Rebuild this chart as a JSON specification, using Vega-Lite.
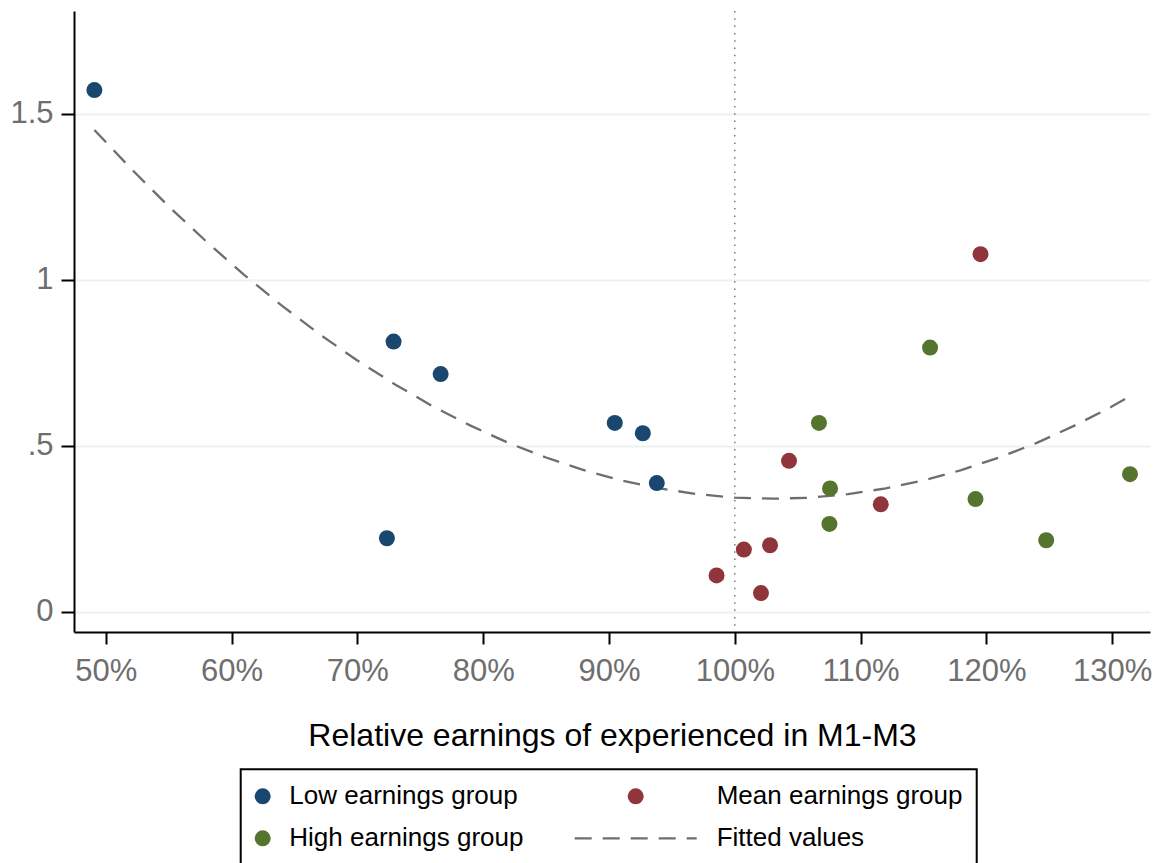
{
  "$schema": "https://vega.github.io/schema/vega-lite/v6.json",
  "width": 1076,
  "height": 621,
  "autosize": {"type": "none"},
  "padding": {"left": 74, "top": 11, "right": 11, "bottom": 231},
  "background": "white",
  "config": {
    "view": {"stroke": null},
    "font": "Liberation Sans, Arial, sans-serif"
  },
  "datasets": {
    "pts": [
      {"x": 49.1, "y": 1.571, "group": "Low earnings group"},
      {"x": 72.88, "y": 0.814, "group": "Low earnings group"},
      {"x": 72.35, "y": 0.222, "group": "Low earnings group"},
      {"x": 76.62, "y": 0.716, "group": "Low earnings group"},
      {"x": 90.46, "y": 0.569, "group": "Low earnings group"},
      {"x": 92.69, "y": 0.538, "group": "Low earnings group"},
      {"x": 93.8, "y": 0.388, "group": "Low earnings group"},
      {"x": 98.55, "y": 0.11, "group": "Mean earnings group"},
      {"x": 100.72, "y": 0.188, "group": "Mean earnings group"},
      {"x": 102.08, "y": 0.057, "group": "Mean earnings group"},
      {"x": 102.8, "y": 0.201, "group": "Mean earnings group"},
      {"x": 104.31, "y": 0.455, "group": "Mean earnings group"},
      {"x": 111.6, "y": 0.324, "group": "Mean earnings group"},
      {"x": 119.53, "y": 1.077, "group": "Mean earnings group"},
      {"x": 106.69, "y": 0.569, "group": "High earnings group"},
      {"x": 107.57, "y": 0.372, "group": "High earnings group"},
      {"x": 107.52, "y": 0.265, "group": "High earnings group"},
      {"x": 115.52, "y": 0.796, "group": "High earnings group"},
      {"x": 119.13, "y": 0.34, "group": "High earnings group"},
      {"x": 124.75, "y": 0.216, "group": "High earnings group"},
      {"x": 131.41, "y": 0.415, "group": "High earnings group"}
    ],
    "fit": [
      {"x": 49.1, "y": 1.451, "series": "Fitted values"},
      {"x": 52, "y": 1.335, "series": "Fitted values"},
      {"x": 55, "y": 1.221, "series": "Fitted values"},
      {"x": 58, "y": 1.115, "series": "Fitted values"},
      {"x": 61, "y": 1.015, "series": "Fitted values"},
      {"x": 64, "y": 0.922, "series": "Fitted values"},
      {"x": 67, "y": 0.836, "series": "Fitted values"},
      {"x": 70, "y": 0.757, "series": "Fitted values"},
      {"x": 73, "y": 0.685, "series": "Fitted values"},
      {"x": 76, "y": 0.619, "series": "Fitted values"},
      {"x": 79, "y": 0.561, "series": "Fitted values"},
      {"x": 82, "y": 0.509, "series": "Fitted values"},
      {"x": 85, "y": 0.465, "series": "Fitted values"},
      {"x": 88, "y": 0.427, "series": "Fitted values"},
      {"x": 91, "y": 0.396, "series": "Fitted values"},
      {"x": 94, "y": 0.372, "series": "Fitted values"},
      {"x": 97, "y": 0.355, "series": "Fitted values"},
      {"x": 100, "y": 0.344, "series": "Fitted values"},
      {"x": 103, "y": 0.341, "series": "Fitted values"},
      {"x": 106, "y": 0.344, "series": "Fitted values"},
      {"x": 109, "y": 0.355, "series": "Fitted values"},
      {"x": 112, "y": 0.372, "series": "Fitted values"},
      {"x": 115, "y": 0.396, "series": "Fitted values"},
      {"x": 118, "y": 0.427, "series": "Fitted values"},
      {"x": 121, "y": 0.465, "series": "Fitted values"},
      {"x": 124, "y": 0.509, "series": "Fitted values"},
      {"x": 127, "y": 0.561, "series": "Fitted values"},
      {"x": 130, "y": 0.619, "series": "Fitted values"},
      {"x": 131.4, "y": 0.649, "series": "Fitted values"}
    ],
    "vline": [{"x": 100}]
  },
  "encoding": {
    "x": {
      "field": "x",
      "type": "quantitative",
      "scale": {"domain": [47.48, 133.0], "nice": false, "zero": false},
      "axis": {
        "values": [50, 60, 70, 80, 90, 100, 110, 120, 130],
        "labelExpr": "datum.value + '%'",
        "labelFontSize": 31,
        "labelColor": "#6e6e6e",
        "labelFlush": false,
        "labelPadding": 12,
        "tickSize": 12,
        "tickWidth": 2,
        "tickColor": "black",
        "domainColor": "black",
        "domainWidth": 2,
        "grid": false,
        "title": "Relative earnings of experienced in M1-M3",
        "titleFontSize": 32,
        "titleFontWeight": "normal",
        "titleColor": "black",
        "titlePadding": 34
      }
    },
    "y": {
      "field": "y",
      "type": "quantitative",
      "scale": {"domain": [-0.0602, 1.809], "nice": false, "zero": false},
      "axis": {
        "values": [0, 0.5, 1, 1.5],
        "labelExpr": "datum.value === 0.5 ? '.5' : datum.label",
        "format": "~g",
        "labelFontSize": 31,
        "labelColor": "#6e6e6e",
        "labelPadding": 8,
        "tickSize": 13,
        "tickWidth": 2,
        "tickColor": "black",
        "domainColor": "black",
        "domainWidth": 2,
        "grid": true,
        "gridColor": "#eaf2f3",
        "gridWidth": 2,
        "title": null
      }
    }
  },
  "layer": [
    {
      "data": {"name": "vline"},
      "mark": {"type": "rule", "color": "#7a7a7a", "strokeWidth": 1.5, "strokeDash": [1.5, 5.8]},
      "encoding": {"x": {"field": "x", "type": "quantitative"}, "y": null}
    },
    {
      "data": {"name": "fit"},
      "mark": {"type": "line", "strokeWidth": 2.3, "strokeDash": [17, 11]},
      "encoding": {
        "color": {"field": "series", "type": "nominal"}
      }
    },
    {
      "data": {"name": "pts"},
      "mark": {"type": "point", "filled": true, "shape": "circle", "size": 256, "opacity": 1},
      "encoding": {
        "color": {
          "field": "group",
          "type": "nominal",
          "scale": {
            "domain": ["Low earnings group", "Mean earnings group", "High earnings group", "Fitted values"],
            "range": ["#1a476f", "#90353b", "#55752f", "#6e6e6e"]
          },
          "legend": {
            "orient": "none",
            "legendX": 166.7,
            "legendY": 758.3,
            "direction": "horizontal",
            "title": null,
            "columns": 2,
            "columnPadding": 46,
            "rowPadding": 16,
            "padding": 14,
            "strokeColor": "black",
            "labelFontSize": 26,
            "labelColor": "black",
            "labelLimit": 500,
            "symbolSize": 256,
            "symbolOpacity": 1,
            "encode": {
              "legend": {"update": {"strokeWidth": {"value": 2}}},
              "symbols": {
                "update": {
                  "shape": {"signal": "datum.value === 'Fitted values' ? 'M-7.625,0H7.625' : 'circle'"},
                  "x": {"signal": "(datum.value === 'Fitted values' || datum.value === 'Mean earnings group') ? 61 : 8"},
                  "fill": {"signal": "datum.value === 'Low earnings group' ? '#1a476f' : datum.value === 'Mean earnings group' ? '#90353b' : datum.value === 'High earnings group' ? '#55752f' : 'transparent'"},
                  "stroke": {"signal": "datum.value === 'Fitted values' ? '#6e6e6e' : 'transparent'"},
                  "strokeWidth": {"signal": "datum.value === 'Fitted values' ? 2.3 : 0"},
                  "strokeDash": {"signal": "datum.value === 'Fitted values' ? [17, 11] : [1, 0]"},
                  "opacity": {"value": 1}
                }
              },
              "labels": {
                "update": {
                  "x": {"signal": "(datum.value === 'Fitted values' || datum.value === 'Mean earnings group') ? 142 : 34.6"}
                }
              }
            }
          }
        }
      }
    }
  ]
}
